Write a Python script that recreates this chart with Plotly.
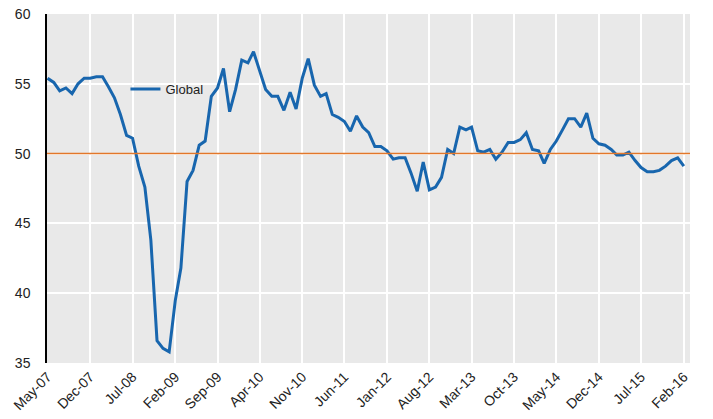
import pandas as pd
import plotly.graph_objects as go

# Monthly index values, May-07 .. Feb-16
start_month = "2007-05-01"
global_values = [
    55.4, 55.1, 54.5, 54.7, 54.3, 55.0, 55.4, 55.4, 55.5, 55.5,
    54.8, 54.0, 52.8, 51.3, 51.1, 49.1, 47.6, 43.8, 36.6, 36.05,
    35.8, 39.5, 41.8, 48.0, 48.8, 50.6, 50.9, 54.1, 54.7, 56.1,
    53.0, 54.6, 56.7, 56.5, 57.3, 56.0, 54.6, 54.1, 54.1, 53.1,
    54.4, 53.2, 55.4, 56.8, 54.9, 54.1, 54.3, 52.8, 52.6, 52.3,
    51.6, 52.7, 51.9, 51.5, 50.5, 50.5, 50.2, 49.6, 49.7, 49.7,
    48.6, 47.3, 49.4, 47.4, 47.6, 48.3, 50.3, 50.0, 51.9, 51.7,
    51.9, 50.2, 50.1, 50.3, 49.6, 50.1, 50.8, 50.8, 51.0, 51.5,
    50.3, 50.2, 49.3, 50.3, 50.9, 51.7, 52.5, 52.5, 51.9, 52.9,
    51.1, 50.7, 50.6, 50.3, 49.9, 49.9, 50.1, 49.5, 49.0, 48.7,
    48.7, 48.8, 49.1, 49.5, 49.7, 49.1,
]
threshold = 50
series_name = "Global"
y_ticks = [35, 40, 45, 50, 55, 60]

dates = pd.date_range(start_month, periods=len(global_values), freq="MS")

fig = go.Figure()
fig.add_trace(go.Scatter(
    x=dates, y=global_values, mode="lines", name=series_name,
    line=dict(color="#1866AE", width=3),
))
fig.add_hline(y=threshold, line=dict(color="#E2772A", width=1.5), layer="above")

fig.update_layout(
    width=713, height=419,
    margin=dict(l=47, r=23, t=14, b=56, autoexpand=False),
    paper_bgcolor="white",
    plot_bgcolor="#E9E9E9",
    font=dict(family="Liberation Sans, Arial", size=14, color="#222222"),
    showlegend=True,
    legend=dict(
        x=0.122, y=0.785, xanchor="left", yanchor="middle",
        bgcolor="rgba(0,0,0,0)", font=dict(size=13, color="#222222"),
        itemwidth=30,
    ),
)
fig.update_xaxes(
    range=["2007-04-28", "2016-03-03"], automargin=False,
    tick0=start_month, dtick="M7", tickformat="%b-%y",
    tickangle=-45, showgrid=True, gridcolor="white", gridwidth=1.5,
    zeroline=False, showline=False, ticks="", tickfont=dict(size=14),
    ticklabelstandoff=2,
)
fig.update_yaxes(
    range=[35, 60], tickvals=y_ticks, showgrid=True, gridcolor="white",
    gridwidth=1.5, zeroline=False, showline=True, linecolor="black",
    linewidth=1.5, ticks="", ticklabelstandoff=12, tickfont=dict(size=14),
    automargin=False,
)

fig.write_html("out.html")
